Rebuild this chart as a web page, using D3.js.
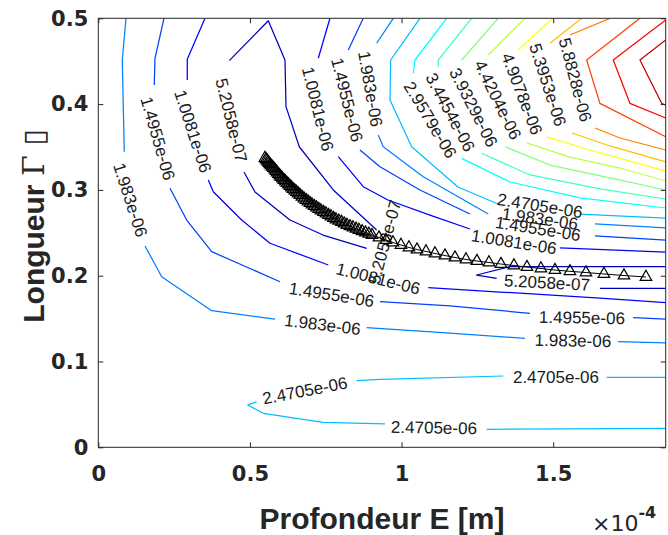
<!DOCTYPE html>
<html><head><meta charset="utf-8">
<script src="https://cdn.jsdelivr.net/npm/d3@7"></script>
<style>body{margin:0;background:#fff}svg{display:block}</style>
</head><body><svg id="c" width="668" height="535"></svg>
<script>
// ---------- data ----------
const xMax = 1.871;               // x axis limit (units of 1e-4 m)
const yMax = 0.5;
const xTicks = [0, 0.5, 1, 1.5];
const xTickLabels = ["0", "0.5", "1", "1.5"];
const yTicks = [0, 0.1, 0.2, 0.3, 0.4, 0.5];
const yTickLabels = ["0", "0.1", "0.2", "0.3", "0.4", "0.5"];
const levels = [5.2058e-7, 1.0081e-6, 1.4955e-6, 1.983e-6, 2.4705e-6, 2.9579e-6, 3.4454e-6,
  3.9329e-6, 4.4204e-6, 4.9078e-6, 5.3953e-6, 5.8828e-6, 6.3703e-6, 6.8578e-6, 7.3453e-6];

// contour polylines: level index (1-based) and points [E (1e-4 m), Gamma]
const pieceLevel = [
  1,1,1,1,
  2,2,2,2,2,2,
  3,3,3,3,3,3,3,
  4,4,4,4,4,4,4,
  5,5,5,5,5,5,
  6,6, 7,7, 8,8, 9,9, 10,10, 11,11, 12,12, 13, 14, 15
];
const pieces = [
  // 5.2058e-07
  [[0.4319,0.4506],[0.5605,0.4972],[0.6156,0.4514],[0.6189,0.3970],[0.6627,0.3503],[0.7748,0.2999],[0.9179,0.2533]],
  [[0.8849,0.2319],[0.7409,0.2474],[0.6320,0.2649],[0.5166,0.2976],[0.4804,0.3209]],
  [[1.871,0.2105],[1.3574,0.2105],[1.2476,0.2008],[1.3136,0.1970]],
  [[1.6541,0.1853],[1.871,0.1853]],
  // 1.0081e-06
  [[0.3518,0.5],[0.2934,0.4522],[0.2934,0.4281]],
  [[0.3627,0.3115],[0.3792,0.2979],[0.4728,0.2649],[0.5661,0.2378],[0.7583,0.2125]],
  [[1.0880,0.1860],[1.3244,0.1810],[1.6541,0.1740],[1.871,0.1685]],
  [[0.7639,0.5],[0.7254,0.4534]],
  [[0.7913,0.3387],[0.8737,0.3037],[0.9552,0.2882],[1.0936,0.2707],[1.2255,0.2544]],
  [[1.5222,0.2323],[1.871,0.2276]],
  // 1.4955e-06
  [[0.2166,0.5],[0.1869,0.4534],[0.1846,0.4223]],
  [[0.2364,0.3019],[0.2915,0.2649],[0.3739,0.2280],[0.5991,0.1930]],
  [[0.9288,0.1697],[1.1596,0.1647],[1.4233,0.1562]],
  [[1.7639,0.1510],[1.871,0.1495]],
  [[0.8737,0.5],[0.8243,0.4631]],
  [[0.8628,0.3465],[0.9288,0.3270],[1.0607,0.2999],[1.2255,0.2719]],
  [[1.6377,0.2463],[1.871,0.2416]],
  // 1.983e-06
  [[0.0913,0.5],[0.0791,0.4514],[0.0857,0.3445]],
  [[0.1540,0.2346],[0.2090,0.1988],[0.3739,0.1592],[0.5826,0.1495]],
  [[0.8849,0.1394],[1.1596,0.1332],[1.4068,0.1270]],
  [[1.7135,0.1231],[1.871,0.1216]],
  [[0.9726,0.5],[0.9179,0.4709]],
  [[0.9232,0.3640],[0.9397,0.3503],[1.0715,0.3154],[1.2859,0.2719]],
  [[1.6377,0.2603],[1.871,0.2556]],
  // 2.4705e-06
  [[1.871,0.0816],[1.6762,0.0816]],
  [[1.3353,0.0831],[0.9288,0.0793],[0.8520,0.0776]],
  [[0.5223,0.0531],[0.4926,0.0493],[0.5440,0.0396],[0.7418,0.0291],[0.9453,0.0272]],
  [[1.2806,0.0210],[1.871,0.0221]],
  [[1.0607,0.5],[0.9641,0.4514],[0.9618,0.4048],[1.0333,0.3503],[1.1860,0.3034],[1.3178,0.2836]],
  [[1.5882,0.2719],[1.871,0.2672]],
  // 2.9579e-06
  [[1.1487,0.5],[1.0442,0.4514],[1.0386,0.4359]],
  [[1.1981,0.3368],[1.3574,0.3092],[1.5882,0.2906],[1.871,0.2789]],
  // 3.4454e-06
  [[1.2311,0.5],[1.1210,0.4514],[1.1210,0.4436]],
  [[1.2641,0.3427],[1.4233,0.3174],[1.6541,0.3011],[1.871,0.2894]],
  // 3.9329e-06
  [[1.3188,0.5],[1.1981,0.4514]],
  [[1.3409,0.3503],[1.4893,0.3290],[1.6871,0.3139],[1.871,0.2999]],
  // 4.4204e-06
  [[1.4068,0.5],[1.2859,0.4572]],
  [[1.4124,0.3547],[1.5552,0.3383],[1.7201,0.3255],[1.871,0.3104]],
  // 4.9078e-06
  [[1.4982,0.5],[1.3848,0.4631]],
  [[1.4794,0.3617],[1.6212,0.3465],[1.871,0.3220]],
  // 5.3953e-06
  [[1.5938,0.5],[1.4893,0.4709]],
  [[1.5618,0.3663],[1.6871,0.3512],[1.871,0.3326]],
  // 5.8828e-06
  [[1.6871,0.5],[1.5552,0.4805]],
  [[1.6377,0.3721],[1.7201,0.3605],[1.871,0.3465]],
  // 6.3703e-06
  [[1.7860,0.5],[1.6103,0.4514],[1.6541,0.4009],[1.871,0.3620]],
  // 6.8578e-06
  [[1.871,0.4980],[1.6980,0.4514],[1.7530,0.4009],[1.871,0.3838]],
  // 7.3453e-06
  [[1.871,0.4747],[1.7860,0.4514],[1.8576,0.4009],[1.871,0.3990]]
];

// inline contour labels
const labelLevel = [1,1,1, 2,2,2,2, 3,3,3,3,3, 4,4,4,4,4, 5,5,5,5, 6,7,8,9,10,11,12];
const labelE = [0.4376,0.9453,1.4794, 0.3106,0.9222,0.7227,1.3706, 0.1952,0.7689,1.5948,0.8190,1.4497,
  0.1045,0.7392,1.5651,0.8958,1.4563, 1.5091,0.6815,1.1068,1.4563, 1.0936,1.1596,1.2364,1.3162,1.3960,1.4810,1.5717];
const labelG = [0.3809,0.2393,0.1915, 0.3681,0.1962,0.3943,0.2389, 0.3599,0.1775,0.1507,0.4048,0.2544,
  0.2882,0.1425,0.1239,0.4176,0.2660, 0.0808,0.0656,0.0225,0.2812, 0.3815,0.3902,0.3960,0.4048,0.4118,0.4223,0.4281];
const labelAngle = [76,-75,3, 72,14,76,9, 74,9,1,76,9, 72,7,1,80,8, 0,-11,1,9, 59,62,63,64,69,72,75];

// trajectory of minima (triangle markers)
const triE = [0.5496,0.5529,0.5562,0.5595,0.5628,0.5661,0.5694,0.5734,0.5776,0.5819,0.5859,0.5898,0.5941,
  0.5984,0.6024,0.6073,0.6123,0.6172,0.6222,0.6271,0.6321,0.6370,0.6420,0.6479,0.6535,0.6591,0.6650,0.6716,
  0.6782,0.6848,0.6914,0.6980,0.7046,0.7118,0.7194,0.7270,0.7343,0.7425,0.7508,0.7590,0.7672,0.7755,0.7837,
  0.7929,0.8019,0.8107,0.8200,0.8299,0.8398,0.8497,0.8596,0.8701,0.8810,0.8919,0.9024,
  0.9255,0.9486,0.9717,0.9980,1.0244,1.0508,1.0805,1.1101,1.1431,1.1761,1.2124,1.2486,1.2882,1.3277,1.3706,
  1.4134,1.4596,1.5057,1.5552,1.6080,1.6673,1.7333,1.8058];
const triG = [0.3372,0.3357,0.3343,0.3328,0.3314,0.3298,0.3284,0.3269,0.3255,0.3238,0.3220,0.3203,0.3185,
  0.3168,0.3150,0.3133,0.3115,0.3098,0.3080,0.3063,0.3045,0.3028,0.3010,0.2993,0.2976,0.2958,0.2941,0.2920,
  0.2900,0.2882,0.2865,0.2847,0.2830,0.2812,0.2795,0.2777,0.2760,0.2742,0.2725,0.2707,0.2690,0.2672,0.2655,
  0.2640,0.2626,0.2608,0.2591,0.2576,0.2562,0.2547,0.2533,0.2517,0.2503,0.2488,0.2474,
  0.2445,0.2416,0.2387,0.2358,0.2329,0.2305,0.2282,0.2259,0.2235,0.2212,0.2189,0.2171,0.2154,0.2136,0.2119,
  0.2101,0.2084,0.2066,0.2051,0.2037,0.2020,0.2002,0.1985];

// ---------- drawing ----------
const svg = d3.select('#c');
const M = {l: 98.3, r: 665.7, t: 18.3, b: 447.3};
const x = d3.scaleLinear().domain([0, xMax]).range([M.l, M.r]);
const y = d3.scaleLinear().domain([0, yMax]).range([M.b, M.t]);
const nInt = levels.length + 1;
function jet(t) {
  const c = v => Math.max(0, Math.min(1, v));
  return d3.rgb(255 * c(1.5 - Math.abs(4 * t - 3)), 255 * c(1.5 - Math.abs(4 * t - 2)),
    255 * c(1.5 - Math.abs(4 * t - 1))).formatHex();
}
function fmt(v) {
  let [mant, ex] = v.toExponential(4).split('e');
  mant = mant.replace(/\.?0+$/, '');
  const sign = ex[0] === '-' ? '-' : '+';
  return mant + 'e' + sign + ex.replace(/^[-+]/, '').padStart(2, '0');
}
svg.append('defs').append('clipPath').attr('id', 'clip').append('rect')
  .attr('x', M.l).attr('y', M.t).attr('width', M.r - M.l).attr('height', M.b - M.t);
const plot = svg.append('g').attr('clip-path', 'url(#clip)');
const line = d3.line().x(d => x(d[0])).y(d => y(d[1]));

plot.selectAll('path.ct').data(pieces).join('path').attr('class', 'ct')
  .attr('d', line).attr('fill', 'none')
  .attr('stroke', (d, i) => jet(pieceLevel[i] / nInt))
  .attr('stroke-width', 1.25).attr('stroke-linejoin', 'round');

plot.selectAll('text.cl').data(labelLevel).join('text').attr('class', 'cl')
  .attr('transform', (d, i) => `translate(${x(labelE[i])},${y(labelG[i])}) rotate(${labelAngle[i]})`)
  .attr('text-anchor', 'middle').attr('dominant-baseline', 'central')
  .style('font-family', 'Arial, "Liberation Sans", Helvetica, sans-serif').style('font-size', '17px')
  .attr('fill', '#1a1a1a')
  .text(d => fmt(levels[d - 1]));

const tri = triE.map((e, i) => [e, triG[i]]);
plot.append('path').attr('d', line(tri)).attr('fill', 'none').attr('stroke', '#000').attr('stroke-width', 1);
plot.selectAll('path.tri').data(tri).join('path').attr('class', 'tri')
  .attr('d', d3.symbol(d3.symbolTriangle, 58))
  .attr('transform', d => `translate(${x(d[0])},${y(d[1])})`)
  .attr('fill', 'none').attr('stroke', '#000').attr('stroke-width', 1.2);

// axes
const axCol = '#262626';
const tickFont = g => g.selectAll('text').style('font-family', '"DejaVu Sans", sans-serif')
  .style('font-size', '21px').style('font-weight', 'bold').attr('fill', axCol);
const styleAx = g => { g.select('.domain').remove(); g.selectAll('line').attr('stroke', axCol); };
svg.append('g').attr('transform', `translate(0,${M.b})`)
  .call(d3.axisBottom(x).tickValues(xTicks).tickFormat((d, i) => xTickLabels[i]).tickSizeInner(-5).tickSizeOuter(0).tickPadding(19))
  .call(styleAx).call(tickFont);
svg.append('g').attr('transform', `translate(${M.l},0)`)
  .call(d3.axisLeft(y).tickValues(yTicks).tickFormat((d, i) => yTickLabels[i]).tickSizeInner(-5).tickSizeOuter(0).tickPadding(10))
  .call(styleAx).call(tickFont);
svg.append('g').attr('transform', `translate(0,${M.t})`)
  .call(d3.axisTop(x).tickValues(xTicks).tickFormat('').tickSizeInner(-5).tickSizeOuter(0)).call(styleAx);
svg.append('g').attr('transform', `translate(${M.r},0)`)
  .call(d3.axisRight(y).tickValues(yTicks).tickFormat('').tickSizeInner(-5).tickSizeOuter(0)).call(styleAx);
svg.append('rect').attr('x', M.l).attr('y', M.t).attr('width', M.r - M.l).attr('height', M.b - M.t)
  .attr('fill', 'none').attr('stroke', axCol).attr('stroke-width', 1);

// axis titles
const F = 'Arial, "Liberation Sans", Helvetica, sans-serif';
svg.append('text').attr('x', 382).attr('y', 529).attr('text-anchor', 'middle')
  .style('font-family', F).style('font-size', '30px').style('font-weight', 'bold').attr('fill', axCol)
  .text('Profondeur E [m]');
const yl = svg.append('text').attr('transform', 'translate(44,226) rotate(-90)').attr('text-anchor', 'middle')
  .style('font-family', F).style('font-size', '30px').style('font-weight', 'bold').attr('fill', axCol);
yl.append('tspan').text('Longueur ');
yl.append('tspan').style('font-family', '"DejaVu Serif", serif').style('font-weight', 'normal').text('Γ');
yl.append('tspan').style('font-family', '"DejaVu Sans", sans-serif').style('font-weight', 'normal').text(' \u25AF');
const ex = svg.append('text').attr('x', 592).attr('y', 531)
  .style('font-family', '"DejaVu Sans", sans-serif').style('font-size', '22px').attr('fill', axCol);
ex.append('tspan').text('×10');
ex.append('tspan').attr('dy', -13).style('font-size', '16px').style('font-weight', 'bold').text('-4');
</script></body></html>
